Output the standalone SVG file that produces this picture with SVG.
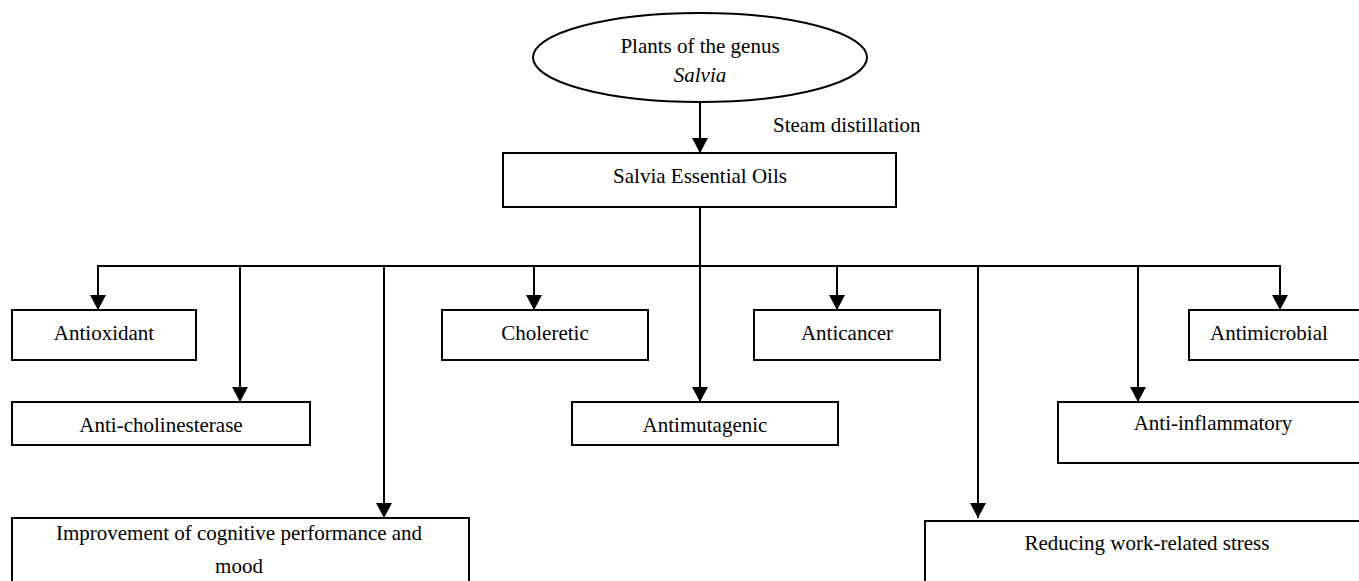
<svg xmlns="http://www.w3.org/2000/svg" width="1359" height="581" viewBox="0 0 1359 581">
<style>
.box{fill:#fff;stroke:#000;stroke-width:2}
.ln{fill:none;stroke:#000;stroke-width:2}
text{font-family:"Liberation Serif","Times New Roman",serif;font-size:21px;fill:#000}
.c{text-anchor:middle}
</style>
<defs>
<marker id="ah" markerUnits="userSpaceOnUse" markerWidth="16" markerHeight="16" refX="15" refY="8" orient="auto">
<path d="M0,0 L15,8 L0,16 Z" fill="#000"/>
</marker>
</defs>
<g id="connectors">
<line class="ln" x1="700" y1="102" x2="700" y2="153" marker-end="url(#ah)"/>
<line class="ln" x1="700" y1="207" x2="700" y2="402" marker-end="url(#ah)"/>
<line class="ln" x1="98" y1="266" x2="1280" y2="266"/>
<line class="ln" x1="98" y1="265" x2="98" y2="310" marker-end="url(#ah)"/>
<line class="ln" x1="240" y1="265" x2="240" y2="402" marker-end="url(#ah)"/>
<line class="ln" x1="384" y1="265" x2="384" y2="518" marker-end="url(#ah)"/>
<line class="ln" x1="534" y1="265" x2="534" y2="310" marker-end="url(#ah)"/>
<line class="ln" x1="837" y1="265" x2="837" y2="310" marker-end="url(#ah)"/>
<line class="ln" x1="978" y1="265" x2="978" y2="518" marker-end="url(#ah)"/>
<line class="ln" x1="1138" y1="265" x2="1138" y2="402" marker-end="url(#ah)"/>
<line class="ln" x1="1280" y1="265" x2="1280" y2="310" marker-end="url(#ah)"/>
<text x="773" y="132">Steam distillation</text>
</g>
<g id="plants">
<ellipse class="box" cx="700" cy="57.5" rx="167" ry="44.5"/>
<text class="c" x="700" y="53">Plants of the genus</text>
<text class="c" x="700" y="82" font-style="italic">Salvia</text>
</g>
<g id="oils">
<rect class="box" x="503" y="153" width="393" height="54"/>
<text class="c" x="700" y="183">Salvia Essential Oils</text>
</g>
<g id="antioxidant">
<rect class="box" x="12" y="310" width="184" height="50"/>
<text class="c" x="104" y="340">Antioxidant</text>
</g>
<g id="anticholinesterase">
<rect class="box" x="12" y="402" width="298" height="43"/>
<text class="c" x="161" y="432">Anti-cholinesterase</text>
</g>
<g id="improvement">
<rect class="box" x="12" y="518" width="457" height="80"/>
<text class="c" x="239" y="540">Improvement of cognitive performance and</text>
<text class="c" x="239" y="573">mood</text>
</g>
<g id="choleretic">
<rect class="box" x="442" y="310" width="206" height="50"/>
<text class="c" x="545" y="340">Choleretic</text>
</g>
<g id="antimutagenic">
<rect class="box" x="572" y="402" width="266" height="43"/>
<text class="c" x="705" y="432">Antimutagenic</text>
</g>
<g id="anticancer">
<rect class="box" x="754" y="310" width="186" height="50"/>
<text class="c" x="847" y="340">Anticancer</text>
</g>
<g id="antimicrobial">
<rect class="box" x="1189" y="310" width="190" height="50"/>
<text x="1210" y="340">Antimicrobial</text>
</g>
<g id="antiinflammatory">
<rect class="box" x="1058" y="402" width="320" height="61"/>
<text class="c" x="1213" y="430">Anti-inflammatory</text>
</g>
<g id="reducing">
<rect class="box" x="925" y="521" width="450" height="80"/>
<text class="c" x="1147" y="550">Reducing work-related stress</text>
</g>
</svg>
